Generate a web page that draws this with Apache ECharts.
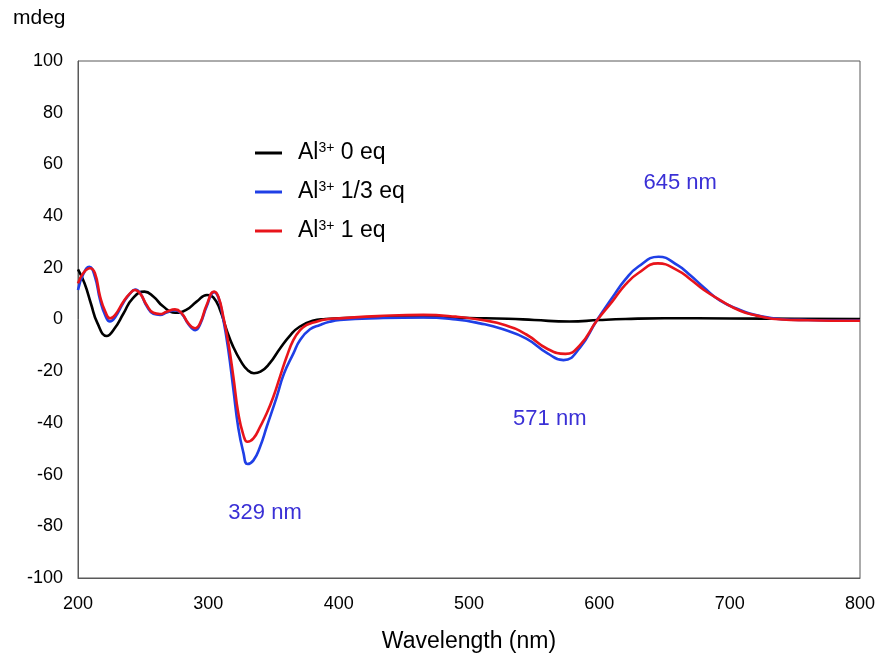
<!DOCTYPE html>
<html>
<head>
<meta charset="utf-8">
<script src="https://cdn.jsdelivr.net/npm/echarts@6/dist/echarts.min.js"></script>
<style>html,body{margin:0;padding:0;background:#fff;}#c{width:880px;height:657px;}</style>
</head>
<body>
<div id="c"></div>
<script>
// Al3+ 0 eq
var wl0 = [200,205,210,215,222,228,235,242,251,258,265,274.5,283,291,299,304,309,314,319,325,330,335,340,347,355,363,370,380,390,400,430,465,500,530,550,577,600,620,650,700,750,800];
var cd0 = [19.4,14,6,-1.5,-6.4,-3.5,2.4,8.2,10.8,8.8,5.2,2.6,3.7,6.9,9.5,8.5,3.7,-4,-10.5,-16.2,-19.5,-20.8,-20.2,-17,-11.2,-6,-2.8,-0.5,0.2,0.45,0.9,1,0.6,0.3,-0.2,-0.8,-0.2,0.2,0.5,0.4,0.3,0.2];
// Al3+ 1/3 eq
var wl13 = [200,204,208.7,213,217,221,224.5,228.4,234.8,239.9,244,247.6,252.7,257.8,263,268,274.5,279.6,284.7,290,293.6,298.7,304.4,307.7,311.5,315.4,319.2,323,326.9,330,334.6,339.7,344.8,352.5,358,365.3,370.4,378,385.7,393,401,430,465,490,508.5,525,544,560,572.5,585,598,610,620,630,645.4,660,670,680,692.7,708,720,740,760,790,800];
var cd13 = [11.4,17.5,20.4,16.5,7.5,1.5,-0.8,0.8,6.5,10,11.6,10.3,5.2,2.2,1.8,2.7,3.6,2.2,-1.8,-4.1,-2,5,10.6,8.5,0,-12,-27,-42,-51.5,-55.9,-54.5,-49.2,-41.5,-29.9,-21,-13.1,-7.9,-3.8,-2.1,-0.9,-0.2,0.5,0.8,0,-1.5,-3.6,-7.4,-13,-15.7,-11,-0.4,8.5,15.5,20.5,24.3,21,17,12.5,7.3,3.7,1.7,0.1,-0.2,-0.4,-0.4];
// Al3+ 1 eq
var wl1 = [200,204,209.2,213,217,221,224.6,228.4,234.8,239.9,243.7,247.6,252.7,257.8,262.9,268,274.4,279.6,284.7,289.8,293.6,298.7,304.4,307.7,311.5,315.4,319.2,323,326.9,330,334.6,339.7,344.8,349.9,355,360.1,365.3,370.4,375.5,380.6,390.8,401,430,465,490,510,528,544,560,574,585,598,610,620,630,645,660,670,680,692.7,708,720,740,760,790,800];
var cd1 = [14,17.9,19.8,17.9,8.8,3,0.45,1.7,6.9,10.1,11.4,10.1,5.6,2.6,2.1,3,3.9,2.4,-1.5,-3.4,-1.5,5.6,10.8,8.8,1.1,-9.2,-22.1,-36.3,-44.7,-47.3,-46,-41.5,-36.3,-29.9,-22.1,-14.4,-7.9,-4.1,-2.1,-1.2,0.1,0.45,1.3,1.8,1.1,-0.2,-2.2,-5.8,-11.3,-13.3,-10,-0.5,7,13.5,18,21.7,19,15.5,11.5,7.5,3.4,1.6,0,-0.3,-0.5,-0.5];

var yTicks = [-100,-80,-60,-40,-20,0,20,40,60,80,100];
var xTicks = [200,300,400,500,600,700,800];
var seriesNames = ['0 eq','1/3 eq','1 eq'];
var annotations = [
  {name:'645 nm', coord:[662,52.8]},
  {name:'571 nm', coord:[562,-38.3]},
  {name:'329 nm', coord:[343.5,-74.8]}
];

function pairs(xs, ys){ return xs.map(function(w,i){ return [w, ys[i]]; }); }

var chart = echarts.init(document.getElementById('c'));
var font = '"Liberation Sans", Arial, sans-serif';
var rich = {
  a:{fontSize:23, fontFamily:font, color:'#000', padding:[0,0,0,11], lineHeight:26},
  s:{fontSize:14, fontFamily:font, color:'#000', padding:[0,0,10,0], lineHeight:26},
  b:{fontSize:23, fontFamily:font, color:'#000', lineHeight:26}
};
chart.setOption({
  animation:false,
  backgroundColor:'#fff',
  grid:{left:78, right:20, top:61, bottom:79, show:true, borderColor:'#595959', borderWidth:1, containLabel:false, outerBoundsMode:'none'},
  legend:{
    orient:'vertical', left:250, top:136, icon:'rect', itemWidth:27, itemHeight:3, itemGap:15,
    data:seriesNames,
    formatter:function(n){ return '{a|Al}{s|3+}{b| ' + n + '}'; },
    textStyle:{rich:rich}
  },
  graphic:[{type:'text', left:13, top:8, style:{text:'mdeg', fontSize:21, fontFamily:font, fill:'#000'}}],
  xAxis:{
    type:'value', min:xTicks[0], max:xTicks[xTicks.length-1], interval:100,
    name:'Wavelength (nm)', nameLocation:'middle', nameGap:52,
    nameTextStyle:{fontSize:23, fontFamily:font, color:'#000'},
    axisLine:{onZero:false, lineStyle:{color:'#595959'}},
    axisTick:{show:false}, splitLine:{show:false},
    axisLabel:{fontSize:18, fontFamily:font, color:'#000', margin:17}
  },
  yAxis:{
    type:'value', min:yTicks[0], max:yTicks[yTicks.length-1], interval:20,
    axisLine:{show:true, lineStyle:{color:'#595959'}},
    axisTick:{show:false}, splitLine:{show:false},
    axisLabel:{fontSize:18, fontFamily:font, color:'#000', margin:15}
  },
  series:[
    {name:seriesNames[0], type:'line', data:pairs(wl0, cd0), smooth:0.5, showSymbol:false, color:'#000000', lineStyle:{width:2.6, color:'#000000'}},
    {name:seriesNames[1], type:'line', data:pairs(wl13, cd13), smooth:0.5, showSymbol:false, color:'#1f3fe6', lineStyle:{width:2.6, color:'#1f3fe6'}},
    {name:seriesNames[2], type:'line', data:pairs(wl1, cd1), smooth:0.5, showSymbol:false, color:'#e8141b', lineStyle:{width:2.6, color:'#e8141b'},
      markPoint:{symbol:'circle', symbolSize:0, silent:true,
        label:{show:true, position:'inside', formatter:'{b}', fontSize:22, fontFamily:font, color:'#3a30d6'},
        data:annotations.map(function(a){ return {name:a.name, coord:a.coord}; })
      }
    }
  ]
});
</script>
</body>
</html>
